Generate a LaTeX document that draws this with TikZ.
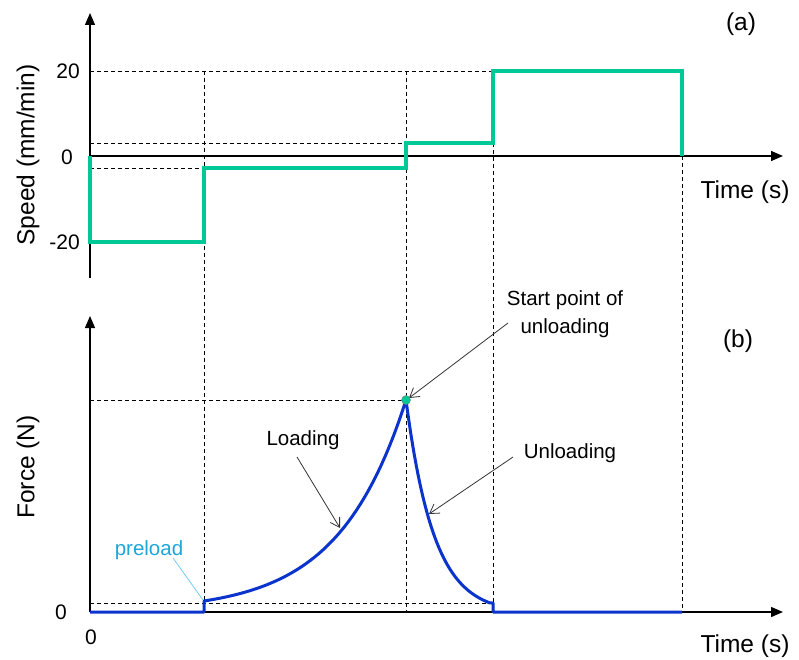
\documentclass[tikz,border=0pt]{standalone}
\usepackage{fontspec}
\setmainfont{Liberation Sans}
\usetikzlibrary{arrows.meta}
\definecolor{tgreen}{HTML}{00C896}
\definecolor{fblue}{HTML}{0A34CC}
\definecolor{pcyan}{HTML}{1EA6D8}
\definecolor{plight}{HTML}{6FCFF0}
\begin{document}
\begin{tikzpicture}[x=1pt,y=-1pt,
  axis/.style={line width=1.3pt,-{Triangle[length=12pt,width=10pt]}},
  guide/.style={line width=0.8pt, dash pattern=on 4pt off 3pt},
  speedline/.style={tgreen, line width=3.2pt},
  forceline/.style={fblue, line width=3pt},
  note/.style={draw=black!80, line width=0.8pt, -{Straight Barb[length=9pt,width=11pt]}},
  lbl/.style={font=\fontsize{24.5}{28}\selectfont, inner sep=0pt},
  small/.style={font=\fontsize{20.5}{28}\selectfont, inner sep=0pt, align=center},
  ticklbl/.style={font=\fontsize{21}{24}\selectfont, inner sep=0pt}]
\useasboundingbox (0,0) rectangle (799,660);

% guides (dashed)
\draw[guide] (90,71) -- (493,71);
\draw[guide] (90,143) -- (406,143);
\draw[guide] (90,168) -- (204,168);
\draw[guide] (204,71) -- (204,601);
\draw[guide] (406,71) -- (406,612);
\draw[guide] (493,143) -- (493,603);
\draw[guide] (682,156) -- (682,612);
\draw[guide] (90,603) -- (493,603);
\draw[guide] (90,400) -- (406,400);

% axes
\draw[axis] (90,278) -- (90,13);
\draw[axis] (90,156) -- (783,156);
\draw[axis] (90,612) -- (90,316);
\draw[axis] (90,612) -- (783,612);

% speed profile
\draw[speedline, line join=miter] (90,156) -- (90,242) -- (204,242) -- (204,168) -- (406,168)
  -- (406,143) -- (493,143) -- (493,71) -- (682,71) -- (682,156);

% force profile
\draw[forceline, line join=round] (90,612) -- (204,612) -- (204,601)
  -- plot[domain=0:1, samples=50] ({204+202*\x},{601-201*(exp(3*\x)-1)/(exp(3)-1)})
  -- plot[domain=0:1, samples=50] ({406+84*\x},{400+203*(1-exp(-3*\x))/(1-exp(-3))})
  -- (493,603) -- (493,612) -- (682,612);

% labels
\node[lbl] (la) at (741,24) {(a)};
\node[lbl] (lb) at (738,341) {(b)};
\node[lbl] (timea) at (745,192) {Time (s)};
\node[lbl] (timeb) at (745,646) {Time (s)};
\node[lbl, rotate=90] (speedlbl) at (28,155) {Speed (mm/min)};
\node[lbl, rotate=90] (forcelbl) at (28,467) {Force (N)};
\node[ticklbl, anchor=east] (t20) at (80,71) {20};
\node[ticklbl, anchor=east] (t0) at (73,157) {0};
\node[ticklbl, anchor=east] (tm20) at (80,242) {-20};
\node[ticklbl] (f0) at (61,612) {0};
\node[ticklbl] (x0) at (91,637) {0};

\node[small] (startlbl) at (565,314) {Start point of\\unloading};
\node[small] (loadlbl) at (303,440) {Loading};
\node[small] (unloadlbl) at (570,453) {Unloading};
\node[small, text=pcyan] (prelbl) at (149,550) {preload};

% annotation connectors
\coordinate (starttail) at (508,323);
\coordinate (starttip) at (409,398);
\coordinate (loadtail) at (297,457);
\coordinate (loadtip) at (340,528);
\coordinate (unloadtail) at (513,457);
\coordinate (unloadtip) at (429,514);
\coordinate (pretail) at (173,558);
\coordinate (pretip) at (203,600);
\draw[note] (starttail) -- (starttip);
\draw[note] (loadtail) -- (loadtip);
\draw[note] (unloadtail) -- (unloadtip);
\draw[plight, line width=0.8pt] (pretail) -- (pretip);

\node[circle, fill=tgreen, draw=black!50, line width=0.4pt, inner sep=0pt, minimum size=9pt] (peak) at (406,400) {};
\end{tikzpicture}
\end{document}
